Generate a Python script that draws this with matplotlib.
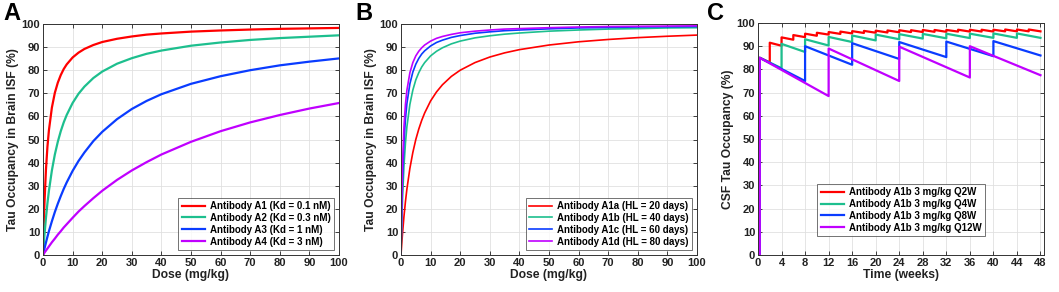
import numpy as np
import matplotlib
matplotlib.use("Agg")
import matplotlib.pyplot as plt

plt.rcParams['font.family'] = ['Liberation Sans', 'DejaVu Sans']
plt.rcParams['font.weight'] = 'bold'

# ---- Panel A: effect of binding affinity ----
dose = [0, 0.25, 0.5, 1, 1.5, 2, 3, 4, 5, 6, 7, 8, 10, 12, 14, 17, 20, 25, 30, 35,
        40, 50, 60, 70, 80, 90, 100]
occ_a1 = [0, 12.8, 22.7, 37, 46.9, 54, 63.8, 70.2, 74.6, 77.9, 80.5, 82.5, 85.5, 87.6,
          89.2, 90.9, 92.2, 93.6, 94.6, 95.4, 95.9, 96.7, 97.2, 97.6, 97.9, 98.1, 98.3]
occ_a2 = [0, 4.6, 8.8, 16.1, 22.4, 27.8, 36.6, 43.5, 49, 53.6, 57.4, 60.6, 65.8, 69.8,
          72.9, 76.6, 79.4, 82.8, 85.2, 87.1, 88.5, 90.6, 92, 93.1, 93.9, 94.5, 95.1]
occ_a3 = [0, 1.4, 2.8, 5.4, 7.9, 10.3, 14.6, 18.6, 22.2, 25.5, 28.6, 31.4, 36.4, 40.7,
          44.4, 49.3, 53.3, 58.8, 63.2, 66.7, 69.6, 74.1, 77.4, 80, 82.1, 83.7, 85.1]
occ_a4 = [0, 0.5, 1, 1.9, 2.8, 3.7, 5.5, 7.1, 8.8, 10.3, 11.9, 13.3, 16.1, 18.8,
          21.2, 24.6, 27.8, 32.5, 36.6, 40.2, 43.5, 49, 53.6, 57.4, 60.6, 63.4, 65.8]
labels_a = ['Antibody A1 (Kd = 0.1 nM)', 'Antibody A2 (Kd = 0.3 nM)',
            'Antibody A3 (Kd = 1 nM)', 'Antibody A4 (Kd = 3 nM)']

# ---- Panel B: effect of half-life ----
occ_a1a = [0, 4.8, 9.1, 16.7, 23.1, 28.6, 37.5, 44.4, 50, 54.5, 58.3, 61.5, 66.7, 70.6,
           73.7, 77.3, 80, 83.3, 85.7, 87.5, 88.9, 90.9, 92.3, 93.3, 94.1, 94.7, 95.2]
occ_a1b = [0, 13.5, 23.8, 38.5, 48.4, 55.6, 65.2, 71.4, 75.8, 78.9, 81.4, 83.3, 86.2, 88.2,
           89.7, 91.4, 92.6, 94, 94.9, 95.6, 96.1, 96.9, 97.4, 97.8, 98, 98.3, 98.4]
occ_a1c = [0, 19.2, 32.3, 48.8, 58.8, 65.6, 74.1, 79.2, 82.6, 85.1, 87, 88.4, 90.5, 92,
           93, 94.2, 95, 96, 96.6, 97.1, 97.4, 97.9, 98.3, 98.5, 98.7, 98.8, 98.9]
occ_a1d = [0, 23.8, 38.5, 55.6, 65.2, 71.4, 78.9, 83.3, 86.2, 88.2, 89.7, 90.9, 92.6, 93.8,
           94.6, 95.5, 96.2, 96.9, 97.4, 97.8, 98, 98.4, 98.7, 98.9, 99, 99.1, 99.2]
labels_b = ['Antibody A1a (HL = 20 days)', 'Antibody A1b (HL = 40 days)',
            'Antibody A1c (HL = 60 days)', 'Antibody A1d (HL = 80 days)']

# ---- Panel C: dosing regimens (peak right after each dose, trough just before next) ----
q2w_peak = [85, 91.5, 93.8, 94.8, 95.4, 95.8, 96.1, 96.3, 96.5, 96.6, 96.7, 96.8,
            96.9, 96.9, 97.0, 97.0, 97.0, 97.1, 97.1, 97.1, 97.1, 97.2, 97.2, 97.2]
q2w_trough = [83, 90.2, 92.8, 93.9, 94.5, 95.0, 95.3, 95.5, 95.7, 95.8, 95.9, 96.0,
              96.1, 96.1, 96.2, 96.2, 96.3, 96.3, 96.3, 96.3, 96.4, 96.4, 96.4, 96.4]
q4w_peak = [85, 91, 93, 94, 94.6, 95, 95.2, 95.3, 95.4, 95.4, 95.5, 95.5]
q4w_trough = [80.5, 87.5, 90.3, 91.8, 92.5, 93, 93.3, 93.4, 93.5, 93.6, 93.6, 93.6]
q8w_peak = [85, 90, 91.3, 91.8, 92, 92.2]
q8w_trough = [75, 82, 84.5, 85.3, 85.7, 86]
q12w_peak = [85, 89, 89.8, 90]
q12w_trough = [68.5, 75, 76.5, 77.5]
intervals = [2, 4, 8, 12]
labels_c = ['Antibody A1b 3 mg/kg Q2W', 'Antibody A1b 3 mg/kg Q4W',
            'Antibody A1b 3 mg/kg Q8W', 'Antibody A1b 3 mg/kg Q12W']

colors = ['#ff0000', '#1dbf8e', '#0a3cff', '#c000ff']


def sawtooth(tau, peaks, troughs, t0=0.3):
    t, y = [t0, t0], [0, peaks[0]]
    for i, (p, tr) in enumerate(zip(peaks, troughs)):
        t_end = (i + 1) * tau
        t.append(t_end)
        y.append(tr)
        if i + 1 < len(peaks):
            t.append(t_end)
            y.append(peaks[i + 1])
    return t, y


def style_axes(ax, xlim, xticks, xlabel, ylabel):
    ax.set_xlim(xlim)
    ax.set_ylim(0, 100)
    ax.set_xticks(xticks)
    ax.set_yticks(range(0, 101, 10))
    ax.grid(True, color='#e0e0e0', linewidth=0.6)
    ax.set_axisbelow(True)
    ax.tick_params(direction='in', top=True, right=True, length=3, width=0.6,
                   labelsize=8, colors='#222222', pad=2)
    for lab in ax.get_xticklabels() + ax.get_yticklabels():
        lab.set_fontweight('bold')
    for sp in ax.spines.values():
        sp.set_color('#333333')
        sp.set_linewidth(0.7)
    ax.set_xlabel(xlabel, fontsize=8.7, fontweight='bold', color='#222222', labelpad=1)
    ax.set_ylabel(ylabel, fontsize=8.7, fontweight='bold', color='#222222', labelpad=2)


def add_legend(ax, **kw):
    leg = ax.legend(frameon=True, fancybox=False, borderpad=0.35, labelspacing=0.2,
                    handlelength=2.4, handletextpad=0.5,
                    prop={'weight': 'bold', 'size': 7}, **kw)
    leg.get_frame().set_edgecolor('#333333')
    leg.get_frame().set_linewidth(0.6)
    return leg


fig = plt.figure(figsize=(10.59, 2.92), dpi=100)
W, H = 1059, 292


def add_ax(l, r, t, b):
    return fig.add_axes([l / W, 1 - b / H, (r - l) / W, (b - t) / H])


axA = add_ax(43, 339, 24, 255)
axB = add_ax(401, 697, 24, 255)
axC = add_ax(758, 1044, 23, 255)

for ys, c, lab in zip([occ_a1, occ_a2, occ_a3, occ_a4], colors, labels_a):
    axA.plot(dose, ys, color=c, linewidth=1.6, label=lab)
style_axes(axA, (0, 100), range(0, 101, 10), 'Dose (mg/kg)', 'Tau Occupancy in Brain ISF (%)')
add_legend(axA, loc='lower right', borderaxespad=0.5)

for ys, c, lab in zip([occ_a1a, occ_a1b, occ_a1c, occ_a1d], colors, labels_b):
    axB.plot(dose, ys, color=c, linewidth=1.2, label=lab)
style_axes(axB, (0, 100), range(0, 101, 10), 'Dose (mg/kg)', 'Tau Occupancy in Brain ISF (%)')
add_legend(axB, loc='lower right', borderaxespad=0.5)

series_c = [(q2w_peak, q2w_trough), (q4w_peak, q4w_trough),
            (q8w_peak, q8w_trough), (q12w_peak, q12w_trough)]
for (pk, tr), tau, c, lab in zip(series_c, intervals, colors, labels_c):
    t, y = sawtooth(tau, pk, tr)
    axC.plot(t, y, color=c, linewidth=1.6, label=lab)
style_axes(axC, (0, 48.6), range(0, 49, 4), 'Time (weeks)', 'CSF Tau Occupancy (%)')
add_legend(axC, loc='lower center', bbox_to_anchor=(0.5, 0.06))

for x, letter in [(3, 'A'), (355, 'B'), (707, 'C')]:
    fig.text(x / W, 1 - 2 / H, letter, fontsize=17, fontweight='bold', va='top', ha='left')

fig.savefig('out.png', dpi=100)
